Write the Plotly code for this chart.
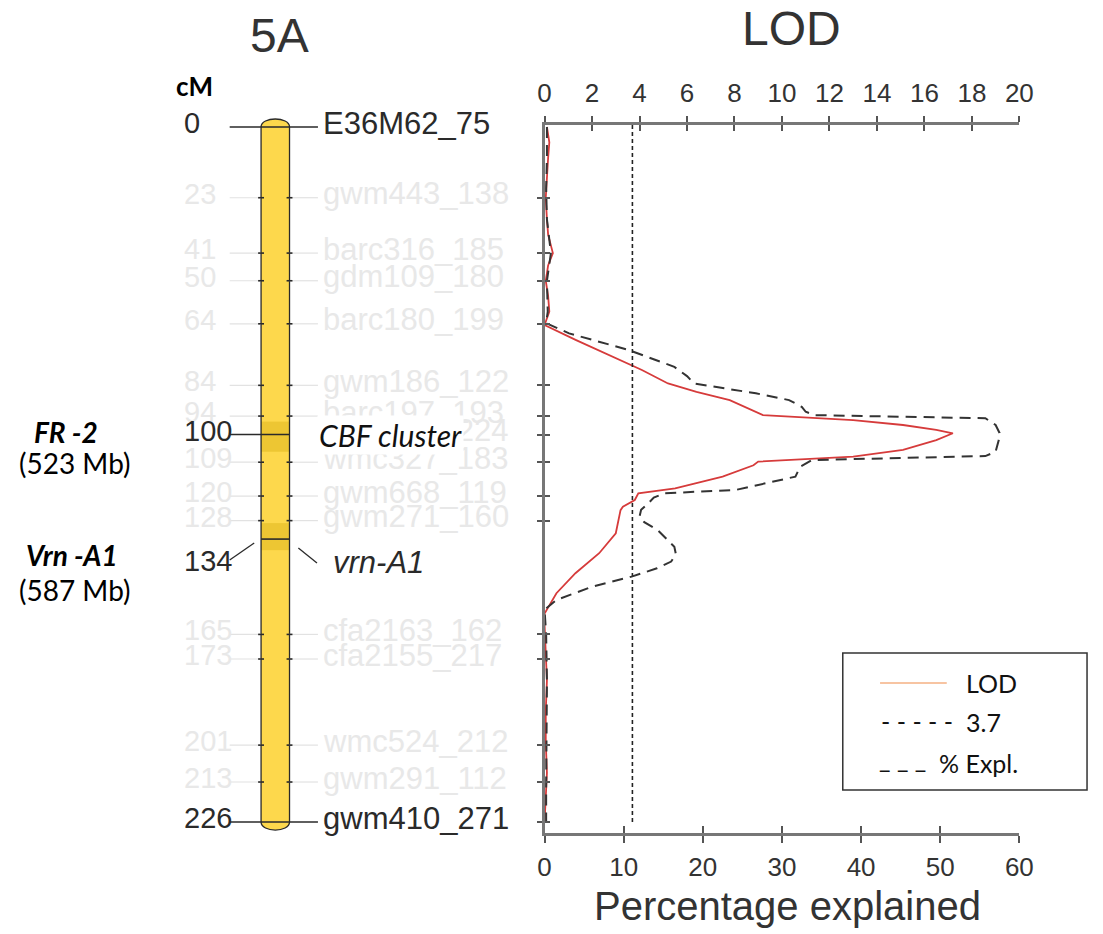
import plotly.graph_objects as go

# ---------------- data ----------------
# linkage map of chromosome 5A (position in cM, marker name)
marker_cm = [0, 23, 41, 50, 64, 84, 94, 100, 109, 120, 128, 165, 173, 201, 213, 226]
marker_names = ["E36M62_75", "gwm443_138", "barc316_185", "gdm109_180", "barc180_199",
                "gwm186_122", "barc197_193", "wmc150_224", "wmc327_183", "gwm668_119",
                "gwm271_160", "cfa2163_162", "cfa2155_217", "wmc524_212", "gwm291_112",
                "gwm410_271"]
strong_cm = [0, 100, 226]                     # positions printed in full colour
strong_names = ["E36M62_75", "gwm410_271"]

gene_cm = 134
gene_name = "vrn-A1"
cbf_cm = 100
cbf_band = [95.8, 105.6]
vrn_band = [128.8, 137.6]

# LOD profile along the chromosome
lod_cm = [0, 5, 10, 15, 20, 23, 30, 35, 41, 45, 50, 55, 60, 64.4, 69.3, 74.1, 77.4, 79.0,
          83.4, 86.1, 88.8, 93.7, 95.3, 96.9, 98.5, 99.6, 101.8, 105.0, 107.2, 108.8,
          110.0, 113.7, 117.5, 119.1, 121.3, 123.5, 124.6, 132.1, 138.6, 145.1, 151.6,
          158.2, 162, 170, 180, 190, 200, 210, 220, 226]
lod_vals = [0.1, 0.2, 0.15, 0.1, 0.05, 0.05, 0.1, 0.15, 0.35, 0.15, 0.05, 0.15, 0.2, 0.0,
            1.33, 2.7, 3.67, 4.1, 5.2, 6.4, 7.8, 9.2, 13.0, 15.1, 16.5, 17.2, 16.5, 15.1,
            13.0, 9.0, 8.8, 7.5, 5.5, 3.95, 3.8, 3.3, 3.2, 3.0, 2.3, 1.3, 0.5, 0.0, 0.0,
            0.05, 0.1, 0.05, 0.05, 0.1, 0.05, 0.0]

# percentage of variance explained along the chromosome
pct_cm = [0, 10, 20, 30, 41, 50, 60, 63.8, 67.1, 72.5, 78.0, 81.0, 83.4, 85.0, 86.6, 88.8,
          91.0, 92.6, 93.7, 94.7, 96.9, 99.5, 101.8, 105.6, 107.0, 108.3, 110.5, 113.7,
          118.0, 119.1, 120.5, 122.4, 124.5, 126.7, 128.5, 131.1, 136.5, 139.0, 141.3,
          143.5, 146.2, 149.5, 153.8, 157.0, 165, 180, 200, 215, 226]
pct_vals = [0.3, 0.3, 0.2, 0.3, 0.8, 0.3, 0.4, 0.2, 3.1, 10.6, 16.4, 18.0, 18.9, 22.6, 26.7,
            30.9, 32.5, 33.0, 34.2, 55.7, 57.0, 57.5, 57.4, 57.0, 55.7, 33.8, 32.3, 31.7,
            24.2, 15.2, 13.8, 13.1, 12.2, 12.0, 12.6, 14.3, 16.4, 16.6, 16.0, 14.2, 11.0,
            6.0, 1.5, 0.0, 0.2, 0.3, 0.2, 0.2, 0.2]

lod_threshold = 3.7
lod_ticks = list(range(0, 21, 2))
pct_ticks = list(range(0, 61, 10))

# ---------------- layout geometry (pixels) ----------------
W, H = 1103, 934
CM0_PX = 127                      # vertical pixel of 0 cM
PX_PER_CM = 695 / 226
PANEL_L, PANEL_R, PANEL_T, PANEL_B = 548, 1032, 125, 833
CHR_L, CHR_R = 259, 288           # chromosome body edges
NUM_X, LINE_L, LINE_R, NAME_X = 178, 227, 317, 320
LABEL_LIFT = 4                    # marker text sits slightly above its line

DARK = "#2a2a2a"
FADED = "#E8E8E8"
FADED_LINE = "#E2E2E2"
ARIAL = "Liberation Sans, Arial, Helvetica, sans-serif"
CALIBRI = "Lato, Open Sans, sans-serif"


def cm_at(py):
    return (py - CM0_PX) / PX_PER_CM


def px_cm(p):
    return p / PX_PER_CM


def fx(px):
    return px / W


def fy(py):
    return 1 - py / H


chrom_len = marker_cm[-1]

fig = go.Figure()

# placeholder so the full-page map axes exist
fig.add_trace(go.Scatter(x=[None], y=[None], xaxis="x", yaxis="y", showlegend=False,
                         hoverinfo="skip"))

# LOD curve
fig.add_trace(go.Scatter(x=lod_vals, y=lod_cm, xaxis="x2", yaxis="y2", mode="lines",
                         line=dict(color="#D63B3B", width=1.8), showlegend=False,
                         name="LOD"))
# % explained curve
fig.add_trace(go.Scatter(x=pct_vals, y=pct_cm, xaxis="x3", yaxis="y2", mode="lines",
                         line=dict(color="#333333", width=2, dash="11px,7px"),
                         showlegend=False, name="% Expl."))
# significance threshold
fig.add_trace(go.Scatter(x=[lod_threshold, lod_threshold], y=[cm_at(PANEL_T), chrom_len],
                         xaxis="x2", yaxis="y2", mode="lines",
                         line=dict(color="#222222", width=1.6, dash="4px,3px"),
                         showlegend=False, name="3.7"))
# empty traces that register the tick-only overlay axes
for xa, ya in [("x4", "y2"), ("x5", "y2"), ("x2", "y3")]:
    fig.add_trace(go.Scatter(x=[None], y=[None], xaxis=xa, yaxis=ya, showlegend=False,
                             hoverinfo="skip"))

shapes = []
ann = []

# --- chromosome body ---
cap = px_cm(10.7)
body = (f"M {CHR_L},0 C {CHR_L},{-cap} {CHR_R},{-cap} {CHR_R},0 "
        f"L {CHR_R},{chrom_len} C {CHR_R},{chrom_len + cap} {CHR_L},{chrom_len + cap} "
        f"{CHR_L},{chrom_len} Z")
shapes.append(dict(type="path", xref="x", yref="y", path=body, fillcolor="#FDD84C",
                   line=dict(width=0), layer="above"))
for band in (cbf_band, vrn_band):
    shapes.append(dict(type="rect", xref="x", yref="y", x0=CHR_L, x1=CHR_R,
                       y0=band[0], y1=band[1], fillcolor="#EDC633", line=dict(width=0)))
shapes.append(dict(type="path", xref="x", yref="y", path=body, fillcolor="rgba(0,0,0,0)",
                   line=dict(color=DARK, width=1.3)))

# --- marker lines, ticks and labels ---
for cm, name in zip(marker_cm, marker_names):
    strong = cm in strong_cm
    if cm in (0, chrom_len):
        shapes.append(dict(type="line", xref="x", yref="y", x0=LINE_L, x1=LINE_R,
                           y0=cm, y1=cm, line=dict(color=DARK, width=1.4)))
    elif cm == cbf_cm:
        shapes.append(dict(type="line", xref="x", yref="y", x0=LINE_L, x1=CHR_R,
                           y0=cm, y1=cm, line=dict(color=DARK, width=1.4)))
    else:
        for a, b in ((LINE_L, CHR_L), (CHR_R, LINE_R)):
            shapes.append(dict(type="line", xref="x", yref="y", x0=a, x1=b, y0=cm, y1=cm,
                               line=dict(color=FADED_LINE, width=1.2)))
        for edge in (CHR_L, CHR_R):
            shapes.append(dict(type="line", xref="x", yref="y", x0=edge - 3, x1=edge + 3,
                               y0=cm, y1=cm, line=dict(color=DARK, width=1.6)))
    ann.append(dict(x=NUM_X, y=cm, xref="x", yref="y", text=str(cm), showarrow=False,
                    xanchor="left", yanchor="middle", yshift=LABEL_LIFT,
                    font=dict(family=ARIAL, size=29, color=DARK if strong else FADED)))
    ann.append(dict(x=NAME_X, y=cm, xref="x", yref="y", text=name, showarrow=False,
                    xanchor="left", yanchor="middle", yshift=LABEL_LIFT,
                    font=dict(family=ARIAL, size=31,
                              color=DARK if name in strong_names else FADED)))

# CBF cluster label over the covered marker name
ann.append(dict(x=316, y=cbf_cm, xref="x", yref="y", text="<i>CBF cluster</i>",
                showarrow=False, xanchor="left", yanchor="middle", bgcolor="white",
                font=dict(family=CALIBRI, size=30, color="#111111")))

# vrn-A1 gene: line across the chromosome and slanted connectors
shapes.append(dict(type="line", xref="x", yref="y", x0=CHR_L, x1=CHR_R, y0=gene_cm,
                   y1=gene_cm, line=dict(color=DARK, width=1.6)))
shapes.append(dict(type="line", xref="x", yref="y", x0=252, x1=LINE_L,
                   y0=gene_cm + px_cm(4), y1=gene_cm + px_cm(21),
                   line=dict(color=DARK, width=1.3)))
shapes.append(dict(type="line", xref="x", yref="y", x0=297, x1=LINE_R - 1,
                   y0=gene_cm + px_cm(9), y1=gene_cm + px_cm(24),
                   line=dict(color=DARK, width=1.3)))
ann.append(dict(x=NUM_X, y=gene_cm, xref="x", yref="y", text=str(gene_cm),
                showarrow=False, xanchor="left", yanchor="middle", yshift=-22,
                font=dict(family=ARIAL, size=29, color=DARK)))
ann.append(dict(x=330, y=gene_cm, xref="x", yref="y", text=f"<i>{gene_name}</i>",
                showarrow=False, xanchor="left", yanchor="middle", yshift=-23,
                font=dict(family=ARIAL, size=31, color=DARK)))


# titles and side notes
def paper_text(x, y, text, size, family, color="#222222", xanchor="center"):
    ann.append(dict(x=fx(x), y=fy(y), xref="paper", yref="paper", text=text,
                    showarrow=False, xanchor=xanchor, yanchor="middle",
                    font=dict(family=family, size=size, color=color)))


paper_text(278, 36, "5A", 48, ARIAL, "#333333")
paper_text(800, 28, "LOD", 48, ARIAL, "#333333")
paper_text(796, 906, "Percentage explained", 40, ARIAL, "#333333")
paper_text(191, 86, "<b>cM</b>", 26, CALIBRI, "#000000")
paper_text(60, 432, "<b><i>FR -2</i></b>", 28, CALIBRI, "#000000")
paper_text(69, 463, "(523 Mb)", 28, CALIBRI, "#000000")
paper_text(66, 555, "<b><i>Vrn -A1</i></b>", 28, CALIBRI, "#000000")
paper_text(69, 590, "(587 Mb)", 28, CALIBRI, "#000000")

# legend box
shapes.append(dict(type="rect", xref="paper", yref="paper", x0=fx(852), x1=fx(1101),
                   y0=fy(790), y1=fy(653), line=dict(color="#333333", width=1.5),
                   fillcolor="white"))
shapes.append(dict(type="line", xref="paper", yref="paper", x0=fx(890), x1=fx(958),
                   y0=fy(683), y1=fy(683), line=dict(color="#F4B183", width=1.6)))
paper_text(976, 683, "LOD", 25, CALIBRI, "#111111", "left")
paper_text(889, 721, "- - - - -", 25, CALIBRI, "#111111", "left")
paper_text(976, 722, "3.7", 25, CALIBRI, "#111111", "left")
paper_text(887, 758, "_ _ _", 25, CALIBRI, "#111111", "left")
paper_text(948, 763, "% Expl.", 25, CALIBRI, "#111111", "left")

axis_line = dict(showline=True, linecolor="#777777", linewidth=2.5, showgrid=False,
                 zeroline=False, tickcolor="#555555", tickwidth=2)
tick_only = dict(showline=False, showgrid=False, zeroline=False, showticklabels=False,
                 tickcolor="#555555", tickwidth=2, ticks="inside")
tick_font = dict(family=ARIAL, size=26, color="#333333")
panel_dom_x = [fx(PANEL_L), fx(PANEL_R)]
panel_range_y = [cm_at(PANEL_B), cm_at(PANEL_T)]

fig.update_layout(
    width=W, height=H, margin=dict(l=0, r=0, t=0, b=0),
    paper_bgcolor="white", plot_bgcolor="rgba(0,0,0,0)", showlegend=False,
    xaxis=dict(domain=[0, 1], range=[0, W], visible=False, fixedrange=True),
    yaxis=dict(domain=[0, 1], range=[cm_at(H), cm_at(0)], visible=False, fixedrange=True),
    xaxis2=dict(domain=panel_dom_x, range=[0, 20], anchor="y2", side="top",
                tickvals=lod_ticks, ticks="outside", ticklen=6, tickfont=tick_font,
                ticklabelstandoff=4, **axis_line),
    xaxis4=dict(overlaying="x2", range=[0, 20], anchor="y2", side="top",
                tickvals=lod_ticks, ticklen=6, **tick_only),
    xaxis3=dict(overlaying="x2", range=[0, 60], anchor="y2", side="bottom",
                tickvals=pct_ticks, ticks="outside", ticklen=7, tickfont=tick_font,
                ticklabelstandoff=2, **axis_line),
    xaxis5=dict(overlaying="x2", range=[0, 60], anchor="y2", side="bottom",
                tickvals=pct_ticks, ticklen=7, **tick_only),
    yaxis2=dict(domain=[fy(PANEL_B), fy(PANEL_T)], range=panel_range_y, anchor="x2",
                side="left", tickvals=[c for c in marker_cm if c > 0], ticks="outside",
                ticklen=5, showticklabels=False, **axis_line),
    yaxis3=dict(overlaying="y2", range=panel_range_y, anchor="x2", side="left",
                tickvals=[c for c in marker_cm if c > 0], ticklen=5, **tick_only),
    shapes=shapes,
    annotations=ann,
)

fig.write_html("out.html")
